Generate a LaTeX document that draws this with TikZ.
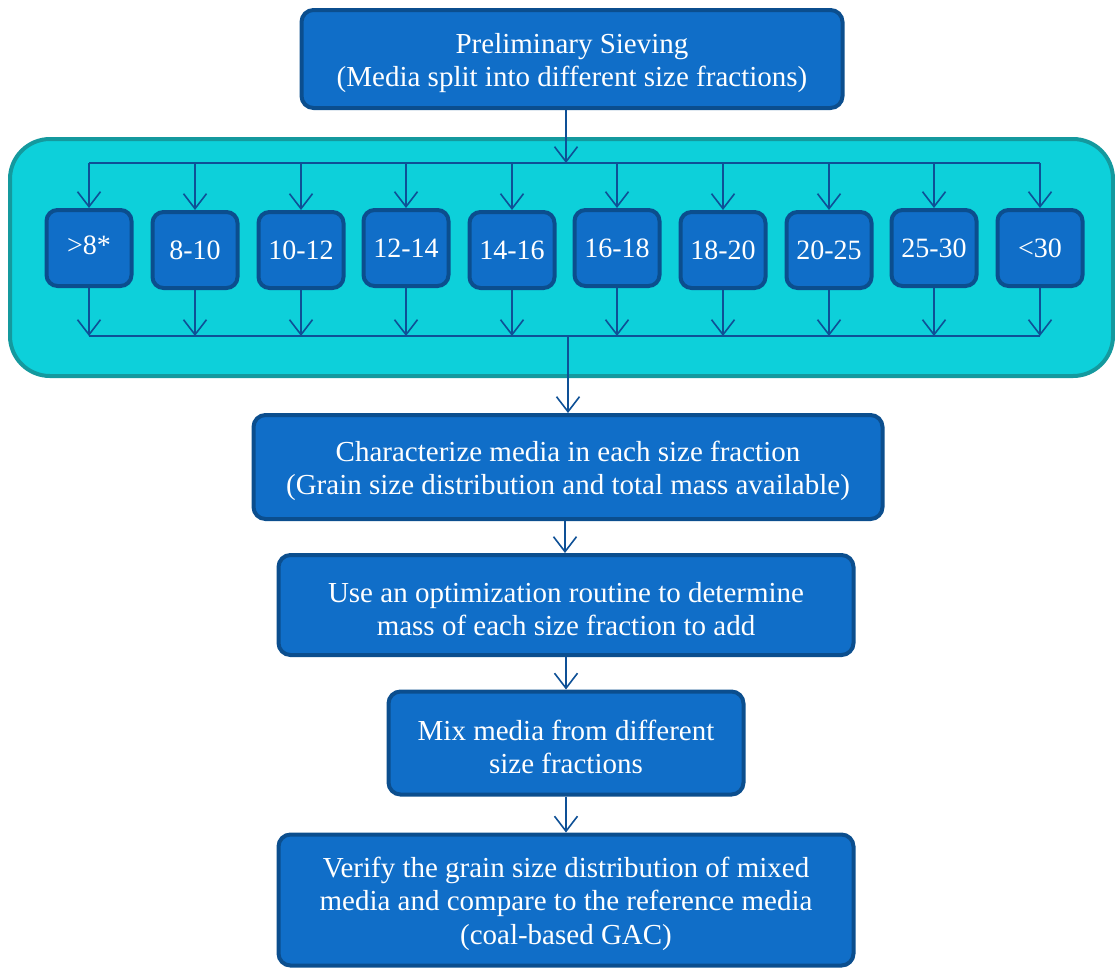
\documentclass[tikz,border=0pt]{standalone}
\usepackage{fontspec}
\setmainfont{Liberation Serif}
\usetikzlibrary{arrows.meta}
\definecolor{boxfill}{RGB}{16,110,200}
\definecolor{boxline}{RGB}{11,78,142}
\definecolor{tealfill}{RGB}{13,208,218}
\definecolor{tealline}{RGB}{20,153,158}
\definecolor{conn}{RGB}{14,80,150}
\newcommand\topstrut{\rule{0pt}{28pt}}
\tikzset{
  bigbox/.style={draw=boxline, fill=boxfill, line width=4, rounded corners=12,
    text=white, align=center, font=\fontsize{29}{33.5}\selectfont, inner sep=0},
  sizebox/.style={draw=boxline, fill=boxfill, line width=4, rounded corners=11,
    text=white, align=center, font=\fontsize{28}{33}\selectfont,
    minimum width=85, minimum height=76, inner sep=0},
  conline/.style={draw=conn, line width=1.6},
  arr/.style={conline, -{Straight Barb[length=15,width=23,line width=1.6]}},
  group/.style={draw=tealline, fill=tealfill, line width=4, rounded corners=40}
}
\begin{document}
\begin{tikzpicture}[x=1pt,y=-1pt]
\useasboundingbox (0,0) rectangle (1115,970);
% container
\draw[group] (10,139) rectangle (1113,376);
% main boxes
\node[bigbox, minimum width=541, minimum height=98] (prelim) at (572,59)
  {\topstrut Preliminary Sieving\\(Media split into different size fractions)};
\node[bigbox, minimum width=629, minimum height=104] (char) at (568,467)
  {\topstrut Characterize media in each size fraction\\(Grain size distribution and total mass available)};
\node[bigbox, minimum width=575, minimum height=100] (opt) at (566,605)
  {\topstrut Use an optimization routine to determine\\mass of each size fraction to add};
\node[bigbox, minimum width=355, minimum height=103] (mix) at (566,743)
  {\topstrut Mix media from different\\size fractions};
\node[bigbox, minimum width=575, minimum height=131] (verify) at (566,900)
  {\topstrut Verify the grain size distribution of mixed\\media and compare to the reference media\\(coal-based GAC)};
% size fraction boxes
\node[sizebox] (s1) at (89,248) {\raisebox{5pt}{>8*}};
\node[sizebox] (s2) at (195,250) {8-10};
\node[sizebox] (s3) at (301,250) {10-12};
\node[sizebox] (s4) at (406,248) {12-14};
\node[sizebox] (s5) at (512,250) {14-16};
\node[sizebox] (s6) at (617,248) {16-18};
\node[sizebox] (s7) at (723,250) {18-20};
\node[sizebox] (s8) at (829,250) {20-25};
\node[sizebox] (s9) at (934,248) {25-30};
\node[sizebox] (s10) at (1040,248) {<30};
% distribution bus
\coordinate (busT) at (566,163);
\coordinate (busB) at (568,336);
\draw[arr] (prelim.south -| busT) -- (busT);
\draw[conline] (s1.north |- busT) -- (s10.north |- busT);
\foreach \i in {1,...,10} {
  \draw[arr] (s\i.north |- busT) -- (s\i.north);
  \draw[arr] (s\i.south) -- (s\i.south |- busB);
}
\draw[conline] (s1.south |- busB) -- (s10.south |- busB);
\draw[arr] (busB) -- (char.north -| busB);
\draw[arr] (char.south -| 565,0) -- (opt.north -| 565,0);
\draw[arr] (opt) ++(0,52) -- (mix.north);
\draw[arr] (mix.south) -- (verify.north);
\end{tikzpicture}
\end{document}
